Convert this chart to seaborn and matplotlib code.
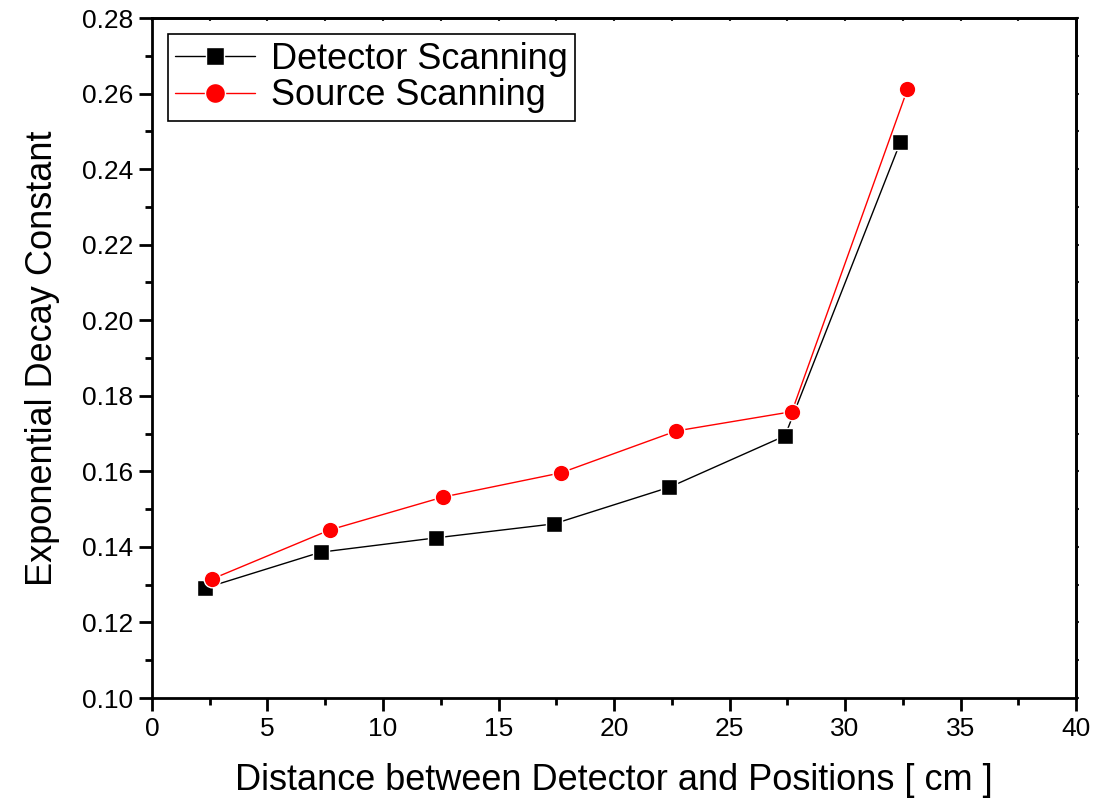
import matplotlib
matplotlib.use("Agg")
import matplotlib.pyplot as plt
import seaborn as sns
import pandas as pd
from matplotlib.ticker import MultipleLocator, FormatStrFormatter

# Data
detector_x = [2.3, 7.3, 12.3, 17.4, 22.4, 27.4, 32.4]
detector_y = [0.1291, 0.1386, 0.1424, 0.1461, 0.1558, 0.1694, 0.2472]
source_x = [2.6, 7.7, 12.6, 17.7, 22.7, 27.7, 32.7]
source_y = [0.1315, 0.1445, 0.1532, 0.1596, 0.1707, 0.1758, 0.2611]
x_ticks = [0, 5, 10, 15, 20, 25, 30, 35, 40]
y_ticks = [0.10, 0.12, 0.14, 0.16, 0.18, 0.20, 0.22, 0.24, 0.26, 0.28]

sns.set_theme(style="ticks")
plt.rcParams['font.family'] = ['Liberation Sans', 'DejaVu Sans']
plt.rcParams['text.color'] = 'black'
plt.rcParams['axes.labelcolor'] = 'black'

fig = plt.figure(figsize=(10.99, 8.05), dpi=100)
ax = fig.add_axes([0.1383, 0.1329, 0.9791 - 0.1383, 0.9776 - 0.1329])

det = pd.DataFrame({"x": detector_x, "y": detector_y})
src = pd.DataFrame({"x": source_x, "y": source_y})

sns.lineplot(data=det, x="x", y="y", ax=ax, color="black", lw=1.0,
             marker="s", markersize=11, markeredgecolor="white",
             markeredgewidth=1.0, markerfacecolor="black",
             label="Detector Scanning")
sns.lineplot(data=src, x="x", y="y", ax=ax, color="#ff0000", lw=1.0,
             marker="o", markersize=12, markeredgecolor="white",
             markeredgewidth=1.0, markerfacecolor="#ff0000",
             label="Source Scanning")

ax.set_xlim(0, 40)
ax.set_ylim(0.10, 0.28)
ax.set_xticks(x_ticks)
ax.set_yticks(y_ticks)
ax.xaxis.set_minor_locator(MultipleLocator(2.5))
ax.yaxis.set_minor_locator(MultipleLocator(0.01))
ax.yaxis.set_major_formatter(FormatStrFormatter("%.2f"))
ax.xaxis.set_major_formatter(FormatStrFormatter("%d"))

for s in ax.spines.values():
    s.set_visible(True)
    s.set_linewidth(2.0)
    s.set_color("black")

ax.tick_params(which="major", direction="out", length=9.5, width=2.0,
               labelsize=19, color="black", labelcolor="black", pad=4,
               top=False, right=False)
ax.tick_params(which="minor", direction="out", length=5, width=2.0,
               color="black", top=False, right=False)

# small ticks on the top and right spines
secx = ax.secondary_xaxis("top")
secx.set_xticks(x_ticks)
secx.xaxis.set_minor_locator(MultipleLocator(2.5))
secx.tick_params(which="both", direction="in", length=2, width=1.5, labeltop=False)
secx.spines["top"].set_linewidth(2.0)
secy = ax.secondary_yaxis("right")
secy.set_yticks(y_ticks)
secy.yaxis.set_minor_locator(MultipleLocator(0.01))
secy.tick_params(which="both", direction="out", length=2, width=1.5, labelright=False)
secy.spines["right"].set_linewidth(2.0)

ax.set_xlabel("Distance between Detector and Positions [ cm ]", fontsize=26,
              labelpad=16, color="black")
ax.set_ylabel("Exponential Decay Constant", fontsize=26, labelpad=16,
              color="black")

leg = ax.legend(loc="upper left", fontsize=26, frameon=True, fancybox=False,
                framealpha=1.0, handlelength=2.2, handletextpad=0.45,
                borderpad=0.2, labelspacing=0.05, borderaxespad=0.45,
                edgecolor="black", markerscale=1.2)
leg.get_frame().set_linewidth(1.2)
for t in leg.get_texts():
    t.set_color("black")

fig.savefig("out.png", dpi=100, facecolor="white")
